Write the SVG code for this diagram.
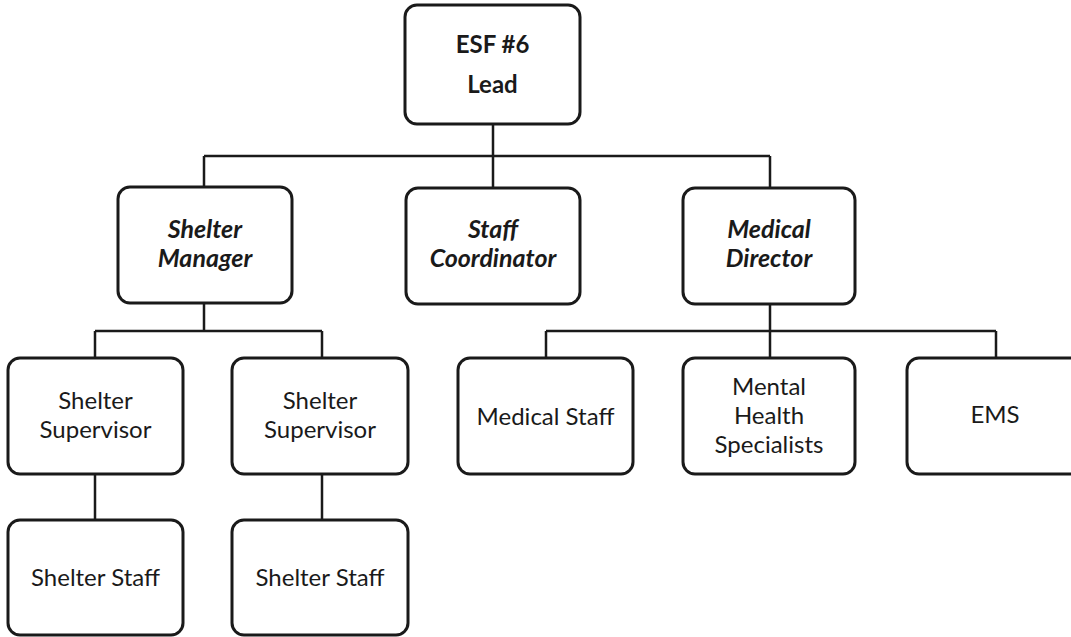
<svg xmlns="http://www.w3.org/2000/svg" width="1071" height="637" viewBox="0 0 1071 637">
<style>
.box{fill:#fff;stroke:#1a1a1a;stroke-width:3}
.ln{fill:none;stroke:#1a1a1a;stroke-width:2.5}
text{font-family:Lato,"Liberation Sans",sans-serif;font-size:24px;fill:#1a1a1a;text-anchor:middle}
.b{font-weight:bold;font-size:24px}
.bi{font-weight:bold;font-style:italic;font-size:25px}
</style>
<rect width="1071" height="637" fill="#fff"/>
<g id="connectors">
<path class="ln" d="M493 124V188M204 156H770M204 156V187M770 156V188"/>
<path class="ln" d="M204 303V331M95 331H322M95 331V358M322 331V358M95 474V520M322 474V520"/>
<path class="ln" d="M770 304V331M546 331H996M546 331V358M770 331V358M996 331V358"/>
</g>
<g id="esf6lead"><rect class="box" x="405" y="5" width="175" height="119" rx="12"/><text class="b" x="492.5" y="53">ESF #6</text><text class="b" x="492.5" y="93">Lead</text></g>
<g id="shelterManager"><rect class="box" x="118" y="187" width="174" height="116" rx="12"/><text class="bi" x="205" y="238">Shelter</text><text class="bi" x="205" y="267">Manager</text></g>
<g id="staffCoordinator"><rect class="box" x="406" y="188" width="174" height="116" rx="12"/><text class="bi" x="493" y="238">Staff</text><text class="bi" x="493" y="267">Coordinator</text></g>
<g id="medicalDirector"><rect class="box" x="683" y="188" width="172" height="116" rx="12"/><text class="bi" x="769" y="238">Medical</text><text class="bi" x="769" y="267">Director</text></g>
<g id="shelterSupervisor1"><rect class="box" x="8" y="358" width="175" height="116" rx="12"/><text x="95.5" y="409">Shelter</text><text x="95.5" y="438">Supervisor</text></g>
<g id="shelterSupervisor2"><rect class="box" x="232" y="358" width="176" height="116" rx="12"/><text x="320" y="409">Shelter</text><text x="320" y="438">Supervisor</text></g>
<g id="shelterStaff1"><rect class="box" x="8" y="520" width="175" height="115" rx="12"/><text x="95.5" y="586">Shelter Staff</text></g>
<g id="shelterStaff2"><rect class="box" x="232" y="520" width="176" height="115" rx="12"/><text x="320" y="586">Shelter Staff</text></g>
<g id="medicalStaff"><rect class="box" x="458" y="358" width="175" height="116" rx="12"/><text x="545.5" y="425">Medical Staff</text></g>
<g id="mentalHealth"><rect class="box" x="683" y="358" width="172" height="116" rx="12"/><text x="769" y="395">Mental</text><text x="769" y="424">Health</text><text x="769" y="453">Specialists</text></g>
<g id="ems"><rect class="box" x="907" y="358" width="177" height="116" rx="12"/><text x="995" y="423">EMS</text></g>
</svg>
